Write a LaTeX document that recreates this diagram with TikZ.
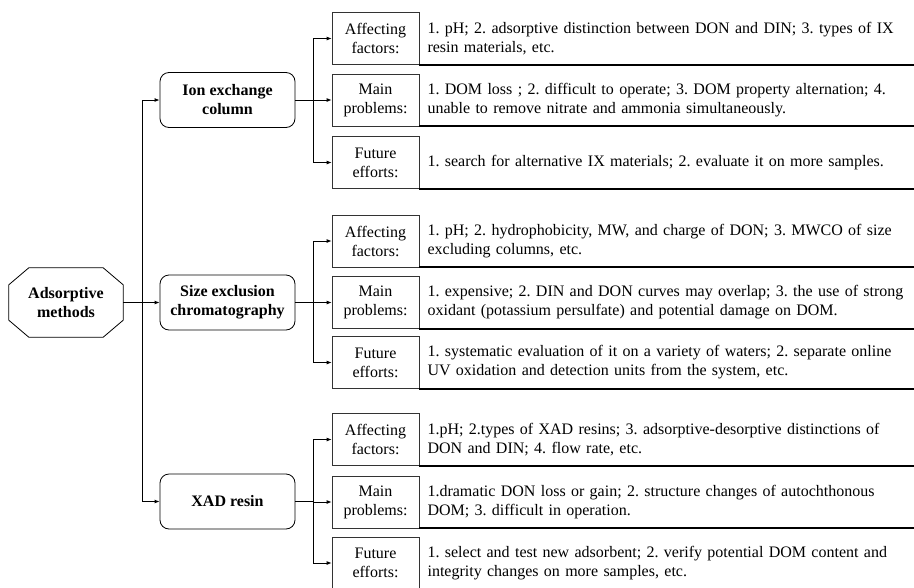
\documentclass[tikz,border=0pt]{standalone}
\usepackage{fontspec}
\setmainfont{Liberation Serif}
\usetikzlibrary{arrows.meta}

\begin{document}
\begin{tikzpicture}[x=1pt, y=-1pt,
		root_style/.style={rectangle, minimum width=114pt, minimum height=69pt, align=center, inner sep=0pt, font=\fontsize{16}{19}\selectfont\bfseries},
		method_style/.style={rectangle, rounded corners=9pt, draw=black, line width=0.8pt, minimum width=135pt, minimum height=55pt, align=center, font=\fontsize{16}{19}\selectfont\bfseries},
		label_style/.style={rectangle, draw=black!80, line width=0.7pt, minimum width=87pt, minimum height=52pt, align=center, inner sep=0pt, font=\fontsize{16}{19}\selectfont},
		text_style/.style={rectangle, anchor=west, minimum height=52pt, text width=540pt, inner xsep=8pt, align=left, font=\fontsize{16}{19}\selectfont\frenchspacing},
		line_style/.style={draw=black, line width=0.9pt},
		arrow_style/.style={draw=black, line width=0.9pt, -{Latex[length=5pt,width=4pt]}},
		base_style/.style={draw=black, line width=2.2pt}]

		\useasboundingbox (0,0) rectangle (914,587);

		% left side
		\node[root_style] (ads) at (66,302.5) {Adsorptive\\methods};
		\draw[line_style, line width=0.8pt] ([xshift=20pt]ads.north west) -- ([xshift=-20pt]ads.north east)
			-- ([yshift=-17pt]ads.north east) -- ([yshift=17pt]ads.south east)
			-- ([xshift=-20pt]ads.south east) -- ([xshift=20pt]ads.south west)
			-- ([yshift=17pt]ads.south west) -- ([yshift=-17pt]ads.north west) -- cycle;
		\node[method_style] (ion) at (227.5,100) {Ion exchange\\column};
		\node[method_style] (sec) at (227.5,302.5) {Size exclusion\\chromatography};
		\node[method_style] (xad) at (227.5,501.5) {XAD resin};

		\coordinate (fork) at (142,302.5);
		\draw[line_style] (ads.east) -- (fork);
		\draw[arrow_style] (fork) |- (ion.west);
		\draw[arrow_style] (fork) -- (sec.west);
		\draw[arrow_style] (fork) |- (xad.west);

		% ion exchange column
		\node[label_style] (ionA) at (375.5,38.5) {Affecting\\factors:};
		\node[label_style] (ionM) at (375.5,100) {Main\\problems:};
		\node[label_style] (ionF) at (375.5,162.5) {Future\\efforts:};
		\node[text_style] (ionAt) at (ionA.east) {1. pH; 2. adsorptive distinction between DON and DIN; 3. types of IX\\resin materials, etc.};
		\node[text_style] (ionMt) at (ionM.east) {1. DOM loss ; 2. difficult to operate; 3. DOM property alternation; 4.\\unable to remove nitrate and ammonia simultaneously.};
		\node[text_style] (ionFt) at (ionF.east) {1. search for alternative IX materials; 2. evaluate it on more samples.};

		% size exclusion chromatography
		\node[label_style] (secA) at (375.5,241) {Affecting\\factors:};
		\node[label_style] (secM) at (375.5,302.5) {Main\\problems:};
		\node[label_style] (secF) at (375.5,362.5) {Future\\efforts:};
		\node[text_style] (secAt) at (secA.east) {1. pH; 2. hydrophobicity, MW, and charge of DON; 3. MWCO of size\\excluding columns, etc.};
		\node[text_style] (secMt) at (secM.east) {1. expensive; 2. DIN and DON curves may overlap; 3. the use of strong\\oxidant (potassium persulfate) and potential damage on DOM.};
		\node[text_style] (secFt) at (secF.east) {1. systematic evaluation of it on a variety of waters; 2. separate online\\UV oxidation and detection units from the system, etc.};

		% XAD resin
		\node[label_style] (xadA) at (375.5,439.5) {Affecting\\factors:};
		\node[label_style] (xadM) at (375.5,502) {Main\\problems:};
		\node[label_style] (xadF) at (375.5,563) {Future\\efforts:};
		\node[text_style] (xadAt) at (xadA.east) {1.pH; 2.types of XAD resins; 3. adsorptive-desorptive distinctions of\\DON and DIN; 4. flow rate, etc.};
		\node[text_style] (xadMt) at (xadM.east) {1.dramatic DON loss or gain; 2. structure changes of autochthonous\\DOM; 3. difficult in operation.};
		\node[text_style] (xadFt) at (xadF.east) {1. select and test new adsorbent; 2. verify potential DOM content and\\integrity changes on more samples, etc.};

		% branches
		\foreach \m in {ion,sec,xad} {
			\coordinate (\m fork) at ([xshift=18pt]\m.east);
			\draw[line_style] (\m.east) -- (\m fork);
			\draw[arrow_style] (\m fork) |- (\m A.west);
			\draw[arrow_style] (\m fork) |- (\m M.west);
			\draw[arrow_style] (\m fork) |- (\m F.west);
			\foreach \r in {A,M,F}
				\draw[base_style] (\m\r.south east) -- (914,0 |- \m\r.south east);
		}

\end{tikzpicture}
\end{document}
